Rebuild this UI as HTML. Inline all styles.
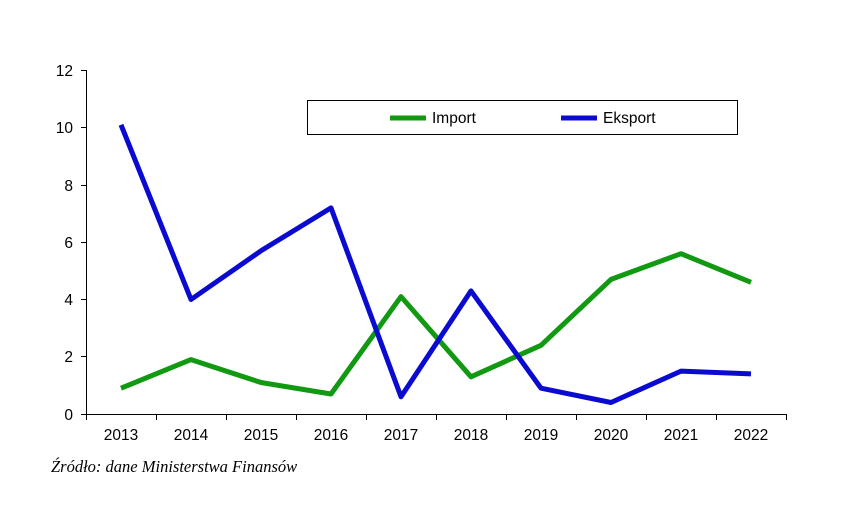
<!DOCTYPE html>
<html><head><meta charset="utf-8"><style>body{margin:0;background:#fff}svg{display:block}</style></head><body>
<svg width="851" height="508" xmlns="http://www.w3.org/2000/svg" font-family="Liberation Sans, Arial, sans-serif">
<rect width="851" height="508" fill="#fff"/>
<g stroke="#000" stroke-width="1">
<line x1="86.5" y1="70" x2="86.5" y2="414"/>
<line x1="86" y1="414.5" x2="786" y2="414.5"/>
<line x1="81" y1="70.5" x2="86" y2="70.5"/>
<line x1="81" y1="127.5" x2="86" y2="127.5"/>
<line x1="81" y1="185.5" x2="86" y2="185.5"/>
<line x1="81" y1="242.5" x2="86" y2="242.5"/>
<line x1="81" y1="299.5" x2="86" y2="299.5"/>
<line x1="81" y1="356.5" x2="86" y2="356.5"/>
<line x1="81" y1="414.5" x2="86" y2="414.5"/>
<g>
<line x1="86.5" y1="414" x2="86.5" y2="420"/><line x1="156.5" y1="414" x2="156.5" y2="420"/><line x1="226.5" y1="414" x2="226.5" y2="420"/><line x1="296.5" y1="414" x2="296.5" y2="420"/><line x1="366.5" y1="414" x2="366.5" y2="420"/><line x1="436.5" y1="414" x2="436.5" y2="420"/><line x1="506.5" y1="414" x2="506.5" y2="420"/><line x1="576.5" y1="414" x2="576.5" y2="420"/><line x1="646.5" y1="414" x2="646.5" y2="420"/><line x1="716.5" y1="414" x2="716.5" y2="420"/><line x1="786.5" y1="414" x2="786.5" y2="420"/>
</g></g>
<g font-size="15.5" text-anchor="end" fill="#000">
<text x="73" y="76">12</text><text x="73" y="133">10</text><text x="73" y="191">8</text><text x="73" y="248">6</text><text x="73" y="305">4</text><text x="73" y="362">2</text><text x="73" y="420">0</text>
</g>
<g font-size="15.5" text-anchor="middle" fill="#000">
<text x="121" y="440">2013</text><text x="191" y="440">2014</text><text x="261" y="440">2015</text><text x="331" y="440">2016</text><text x="401" y="440">2017</text><text x="471" y="440">2018</text><text x="541" y="440">2019</text><text x="611" y="440">2020</text><text x="681" y="440">2021</text><text x="751" y="440">2022</text>
</g>
<polyline fill="none" stroke="#119911" stroke-width="5" stroke-linejoin="round" points="121,388.2 191,359.6 261,382.5 331,394 401,296.6 471,376.8 541,345.3 611,279.4 681,253.7 751,282.3"/>
<polyline fill="none" stroke="#0a0ad0" stroke-width="5" stroke-linejoin="round" points="121,124.8 191,299.5 261,250.8 331,207.9 401,396.8 471,290.9 541,388.2 611,402.5 681,371.1 751,373.9"/>
<rect x="307.5" y="100.5" width="430" height="34" fill="#fff" stroke="#000"/>
<line x1="390" y1="118" x2="426" y2="118" stroke="#119911" stroke-width="5"/>
<text x="432" y="123" font-size="15.5">Import</text>
<line x1="561" y1="118" x2="597" y2="118" stroke="#0a0ad0" stroke-width="5"/>
<text x="603" y="123" font-size="15.5">Eksport</text>
<text x="51" y="472" font-size="16.5" font-style="italic" font-family="Liberation Serif, serif">Źródło: dane Ministerstwa Finansów</text>
</svg>
</body></html>
